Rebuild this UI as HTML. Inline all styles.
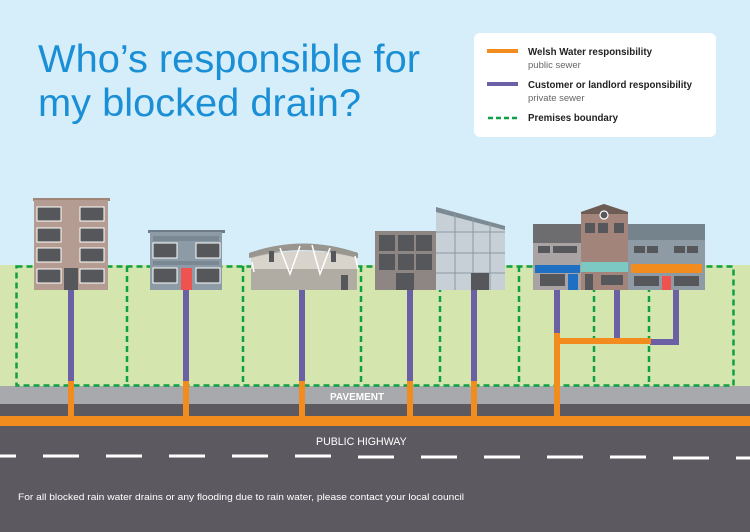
<!DOCTYPE html>
<html><head><meta charset="utf-8"><style>
html,body{margin:0;padding:0;width:750px;height:532px;overflow:hidden;background:#d6eef9}
svg{display:block}
text{font-family:"Liberation Sans",sans-serif}
</style></head><body>
<svg width="750" height="532" viewBox="0 0 750 532" xmlns="http://www.w3.org/2000/svg">
<rect x="0" y="0" width="750" height="266" fill="#d6eef9"/>
<rect x="0" y="265" width="750" height="122" fill="#d4e5ad"/>
<rect x="0" y="386" width="750" height="19" fill="#a7a9ac"/>
<rect x="0" y="404" width="750" height="128" fill="#5c5a60"/>
<rect x="0" y="416" width="750" height="10" fill="#f28c1e"/>
<g stroke="#fff" stroke-width="3">
<line x1="0" y1="456" x2="16" y2="456"/><line x1="43" y1="456" x2="79" y2="456"/><line x1="106" y1="456" x2="142" y2="456"/><line x1="169" y1="456" x2="205" y2="456"/><line x1="232" y1="456" x2="268" y2="456"/><line x1="295" y1="456" x2="331" y2="456"/><line x1="358" y1="457" x2="394" y2="457"/><line x1="421" y1="457" x2="457" y2="457"/><line x1="484" y1="457" x2="520" y2="457"/><line x1="547" y1="457" x2="583" y2="457"/><line x1="610" y1="457" x2="646" y2="457"/><line x1="673" y1="458" x2="709" y2="458"/><line x1="736" y1="458" x2="750" y2="458"/>
</g>
<g stroke="#0f9f46" stroke-width="2.5" stroke-dasharray="6,4" fill="none">
<rect x="16.5" y="266.5" width="717" height="119"/>
<line x1="127" y1="266" x2="127" y2="386"/><line x1="243" y1="266" x2="243" y2="386"/><line x1="361" y1="266" x2="361" y2="386"/><line x1="440" y1="266" x2="440" y2="386"/><line x1="519" y1="266" x2="519" y2="386"/><line x1="594" y1="266" x2="594" y2="386"/><line x1="649" y1="266" x2="649" y2="386"/>
</g>
<g stroke-width="6" fill="none">
<g stroke="#6b5fa5">
<line x1="71" y1="290" x2="71" y2="381"/><line x1="186" y1="290" x2="186" y2="381"/><line x1="302" y1="290" x2="302" y2="381"/><line x1="410" y1="290" x2="410" y2="381"/><line x1="474" y1="290" x2="474" y2="381"/>
<line x1="557" y1="290" x2="557" y2="334"/><line x1="617" y1="290" x2="617" y2="340"/>
<polyline points="676,290 676,342 650,342"/>
</g>
<g stroke="#f28c1e">
<line x1="71" y1="381" x2="71" y2="418"/><line x1="186" y1="381" x2="186" y2="418"/><line x1="302" y1="381" x2="302" y2="418"/><line x1="410" y1="381" x2="410" y2="418"/><line x1="474" y1="381" x2="474" y2="418"/>
<line x1="557" y1="333" x2="557" y2="418"/><line x1="557" y1="341" x2="651" y2="341"/>
</g>
</g>
<rect x="33" y="198" width="77" height="3" fill="#a08478"/>
<rect x="34" y="200" width="74" height="90" fill="#b59c92"/>
<g fill="#55575b" stroke="#fff" stroke-width="1">
<rect x="37" y="207" width="24" height="14"/><rect x="80" y="207" width="24" height="14"/>
<rect x="37" y="228" width="24" height="14"/><rect x="80" y="228" width="24" height="14"/>
<rect x="37" y="248" width="24" height="14"/><rect x="80" y="248" width="24" height="14"/>
<rect x="37" y="269" width="24" height="14"/><rect x="80" y="269" width="24" height="14"/>
</g>
<rect x="64" y="268" width="14" height="22" fill="#55575b"/>
<rect x="148" y="230" width="77" height="3" fill="#6d7c86"/>
<rect x="150" y="232" width="72" height="58" fill="#8d9ba6"/>
<rect x="153" y="236" width="66" height="5" fill="#7a8893"/><rect x="153" y="261" width="66" height="4" fill="#7a8893"/>
<g fill="#55575b" stroke="#fff" stroke-width="1"><rect x="153" y="243" width="24" height="15"/><rect x="196" y="243" width="24" height="15"/><rect x="153" y="268" width="24" height="15"/><rect x="196" y="268" width="24" height="15"/></g>
<rect x="181" y="268" width="11" height="22" fill="#ef5350"/>
<rect x="251" y="252" width="106" height="38" fill="#b0aca4"/>
<path d="M249,253 Q303,234 358,253 L358,258 Q303,242 249,258Z" fill="#99958f"/>
<path d="M251,258 Q303,244 357,258 L357,269 L251,269Z" fill="#d8d4cb"/>
<g stroke="#fff" stroke-width="1.5" fill="none"><polyline points="252,262 254,272"/><polyline points="280,248 290,274 300,246"/><polyline points="312,245 320,274 330,248"/><polyline points="355,256 358,269"/></g>
<rect x="269" y="251" width="5" height="11" fill="#55575b"/><rect x="331" y="251" width="5" height="11" fill="#55575b"/>
<rect x="341" y="275" width="7" height="15" fill="#55575b"/>
<rect x="375" y="231" width="62" height="59" fill="#8d8683"/>
<g fill="#55575b"><rect x="379" y="235" width="16" height="16"/><rect x="398" y="235" width="16" height="16"/><rect x="416" y="235" width="16" height="16"/><rect x="379" y="254" width="16" height="16"/><rect x="398" y="254" width="16" height="16"/><rect x="416" y="254" width="16" height="16"/></g>
<rect x="396" y="273" width="18" height="17" fill="#55575b"/>
<path d="M436,207 L505,226 L505,290 L436,290Z" fill="#c7d0d7"/>
<path d="M436,207 L505,226 L505,230 L436,212Z" fill="#7c8a94"/>
<g stroke="#8b98a2" stroke-width="1"><line x1="455" y1="212" x2="455" y2="290"/><line x1="473" y1="217" x2="473" y2="290"/><line x1="490" y1="222" x2="490" y2="290"/><line x1="436" y1="232" x2="505" y2="232"/><line x1="436" y1="253" x2="505" y2="253"/><line x1="436" y1="273" x2="505" y2="273"/></g>
<rect x="471" y="273" width="18" height="17" fill="#55575b"/>
<rect x="533" y="224" width="49" height="66" fill="#a9a3a3"/><rect x="533" y="224" width="49" height="19" fill="#6d6d6f"/>
<g fill="#55575b"><rect x="538" y="246" width="12" height="7"/><rect x="553" y="246" width="12" height="7"/><rect x="565" y="246" width="12" height="7"/></g>
<rect x="535" y="265" width="45" height="8" fill="#1f6fc2"/><rect x="540" y="274" width="25" height="12" fill="#55575b"/><rect x="568" y="274" width="10" height="16" fill="#1f6fc2"/>
<path d="M581,212 L604,204 L628,212 L628,290 L581,290Z" fill="#a3847a"/><path d="M581,212 L604,204 L628,212 L628,214 L581,214Z" fill="#6d5c56"/>
<circle cx="604" cy="215" r="4" fill="#55575b" stroke="#fff" stroke-width="1.2"/>
<g fill="#55575b"><rect x="585" y="223" width="10" height="10"/><rect x="598" y="223" width="10" height="10"/><rect x="614" y="223" width="10" height="10"/></g>
<rect x="581" y="262" width="47" height="10" fill="#7cc9c4"/><rect x="585" y="274" width="8" height="16" fill="#55575b"/><rect x="601" y="275" width="22" height="10" fill="#55575b"/>
<rect x="628" y="224" width="77" height="66" fill="#8e9ba5"/><rect x="628" y="224" width="77" height="16" fill="#74838c"/>
<g fill="#55575b"><rect x="634" y="246" width="11" height="7"/><rect x="647" y="246" width="11" height="7"/><rect x="674" y="246" width="11" height="7"/><rect x="687" y="246" width="11" height="7"/></g>
<rect x="631" y="264" width="71" height="9" fill="#f28c1e"/><rect x="634" y="276" width="25" height="10" fill="#55575b"/><rect x="662" y="276" width="9" height="14" fill="#ef5350"/><rect x="674" y="276" width="25" height="10" fill="#55575b"/>
<text x="38" y="72" font-size="39" fill="#1a8fd6" textLength="382" lengthAdjust="spacingAndGlyphs">Who’s responsible for</text>
<text x="38" y="116" font-size="39" fill="#1a8fd6" textLength="323" lengthAdjust="spacingAndGlyphs">my blocked drain?</text>
<rect x="474" y="33" width="242" height="104" rx="6" fill="#fff"/>
<line x1="487" y1="51" x2="518" y2="51" stroke="#f28c1e" stroke-width="4"/>
<line x1="487" y1="84" x2="518" y2="84" stroke="#6b5fa5" stroke-width="4"/>
<line x1="488" y1="118" x2="518" y2="118" stroke="#0f9f46" stroke-width="2.5" stroke-dasharray="5,3"/>
<g font-size="10.3" fill="#222" font-weight="bold"><text x="528" y="55" textLength="124" lengthAdjust="spacingAndGlyphs">Welsh Water responsibility</text><text x="528" y="88" textLength="164" lengthAdjust="spacingAndGlyphs">Customer or landlord responsibility</text><text x="528" y="121" textLength="90" lengthAdjust="spacingAndGlyphs">Premises boundary</text></g>
<g font-size="9.5" fill="#666"><text x="528" y="68">public sewer</text><text x="528" y="101">private sewer</text></g>
<text x="330" y="400" font-size="10" font-weight="bold" fill="#fff">PAVEMENT</text>
<text x="316" y="445" font-size="10.6" fill="#fff">PUBLIC HIGHWAY</text>
<text x="18" y="500" font-size="9.5" fill="#fff" textLength="446" lengthAdjust="spacingAndGlyphs">For all blocked rain water drains or any flooding due to rain water, please contact your local council</text>
</svg>
</body></html>
